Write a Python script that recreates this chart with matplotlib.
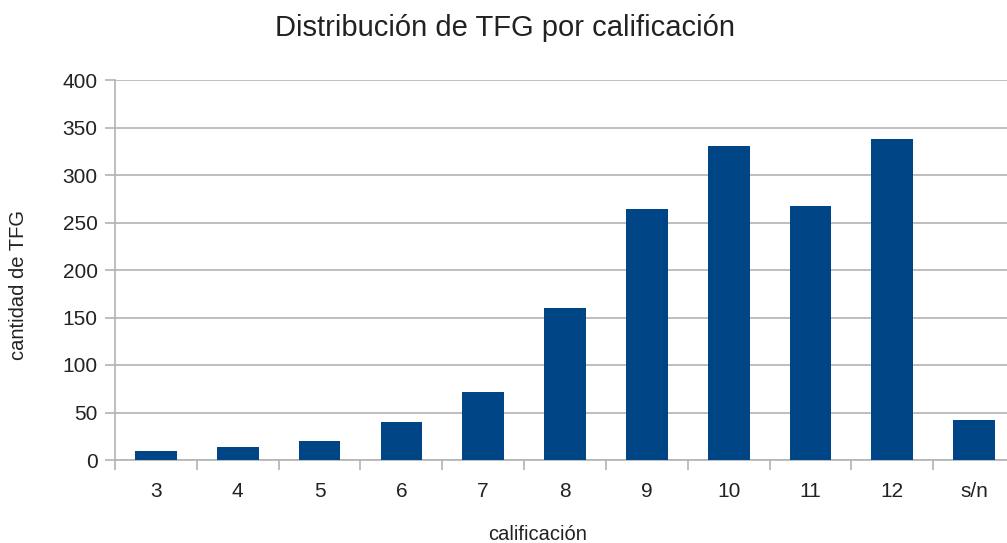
import matplotlib.pyplot as plt
import numpy as np

plt.rcParams['font.family'] = ['Liberation Sans', 'DejaVu Sans']

# datos
categorias = ['3', '4', '5', '6', '7', '8', '9', '10', '11', '12', 's/n']
cantidad = [9, 14, 20, 40, 72, 160, 264, 331, 267, 338, 42]

AZUL = '#004586'
GRIS = '#b3b3b3'
TEXTO = '#222222'

fig = plt.figure(figsize=(10.07, 5.43), dpi=100)
ax = fig.add_axes([115 / 1007, 83 / 543, 900 / 1007, 380 / 543])

x = np.arange(len(categorias))
ax.bar(x, cantidad, width=0.51, color=AZUL, zorder=3)

ax.set_xlim(-0.5, len(categorias) - 0.5)
ax.set_ylim(0, 400)
ax.set_yticks(np.arange(0, 401, 50))
ax.yaxis.grid(True, color=GRIS, linewidth=1.2, zorder=0)

ax.set_xticks(x)
ax.set_xticklabels(categorias)
ax.set_xticks(np.arange(-0.5, len(categorias)), minor=True)
ax.tick_params(axis='x', which='major', length=0, pad=16, labelsize=15, colors=TEXTO)
ax.tick_params(axis='x', which='minor', length=7, color=GRIS, width=1.2)
ax.tick_params(axis='y', length=7.5, color=GRIS, width=1.2, pad=5, labelsize=15, labelcolor=TEXTO)

for s in ['top', 'right']:
    ax.spines[s].set_visible(False)
for s in ['left', 'bottom']:
    ax.spines[s].set_color(GRIS)
    ax.spines[s].set_linewidth(1.2)

# el eje x sigue mas alla del borde derecho, asi que los titulos no van centrados
ax.set_xlabel('calificación', fontsize=14.5, color=TEXTO)
ax.xaxis.set_label_coords(0.469, -0.17)
ax.set_ylabel('cantidad de TFG', fontsize=14.5, color=TEXTO)
ax.yaxis.set_label_coords(-0.097, 0.46)
fig.text(505 / 1007, 1 - 28 / 543, 'Distribución de TFG por calificación',
         ha='center', va='center', fontsize=21, color=TEXTO)

fig.savefig('out.png', dpi=100)
